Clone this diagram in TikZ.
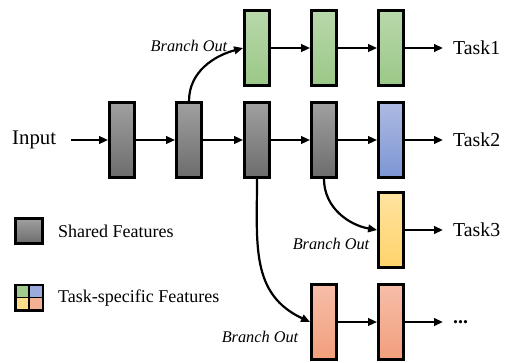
\documentclass[tikz,border=0pt]{standalone}
\usepackage{fontspec}
\setmainfont{Liberation Serif}
\usetikzlibrary{arrows.meta}
\definecolor{grayT}{HTML}{A0A0A0}
\definecolor{grayB}{HTML}{6C6C6C}
\definecolor{greenT}{HTML}{B8D8AA}
\definecolor{greenB}{HTML}{9BC887}
\definecolor{blueT}{HTML}{ADBAE2}
\definecolor{blueB}{HTML}{7C95D3}
\definecolor{yelT}{HTML}{FFE3A0}
\definecolor{yelB}{HTML}{FFD36A}
\definecolor{orT}{HTML}{F6BEA8}
\definecolor{orB}{HTML}{F29E7B}
\tikzset{
  feat/.style={draw=black, line width=2.8pt, minimum width=25pt, minimum height=75pt, inner sep=0pt},
  shared/.style={feat, top color=grayT, bottom color=grayB},
  tgreen/.style={feat, top color=greenT, bottom color=greenB},
  tblue/.style={feat, top color=blueT, bottom color=blueB},
  tyel/.style={feat, top color=yelT, bottom color=yelB},
  tor/.style={feat, top color=orT, bottom color=orB},
  arr/.style={line width=2.2pt, -{Triangle[length=9pt,width=7.5pt]}},
  bigtxt/.style={font=\fontsize{19.8}{23}\selectfont, inner sep=0pt},
  legtxt/.style={font=\fontsize{18}{21}\selectfont, inner sep=0pt, anchor=west},
  brtxt/.style={font=\fontsize{16.3}{19}\selectfont\itshape, inner sep=0pt},
  tasktxt/.style={bigtxt, anchor=west, inner xsep=10pt, inner ysep=0pt}
}
\begin{document}
\begin{tikzpicture}[x=1pt,y=1pt]
\useasboundingbox (0,0) rectangle (510,-362);
% shared row
\node[shared] (g1) at (122,-140) {};
\node[shared] (g2) at (189,-140) {};
\node[shared] (g3) at (257,-140) {};
\node[shared] (g4) at (324,-140) {};
\node[tblue]  (b1) at (391,-140) {};
% task1 row
\node[tgreen] (gr1) at (257,-48) {};
\node[tgreen] (gr2) at (324,-48) {};
\node[tgreen] (gr3) at (391,-48) {};
% task3
\node[tyel] (y1) at (391,-230) {};
% task4
\node[tor] (o1) at (324,-322) {};
\node[tor] (o2) at (391,-322) {};
% labels
\node[bigtxt, anchor=west, font=\fontsize{20.8}{24}\selectfont] (in) at (12,-140) {Input};
\node[tasktxt] (t1) at (443,-48) {Task1};
\node[tasktxt] (t2) at (443,-140) {Task2};
\node[tasktxt] (t3) at (443,-230) {Task3};
\node[tasktxt] (t4) at (443,-322) {\textbf{...}};
% arrows
\draw[arr, shorten <=15pt] (in) -- (g1);
\draw[arr] (g1) -- (g2);
\draw[arr] (g2) -- (g3);
\draw[arr] (g3) -- (g4);
\draw[arr] (g4) -- (b1);
\draw[arr] (b1) -- (t2);
\draw[arr] (gr1) -- (gr2);
\draw[arr] (gr2) -- (gr3);
\draw[arr] (gr3) -- (t1);
\draw[arr] (y1) -- (t3);
\draw[arr] (o1) -- (o2);
\draw[arr] (o2) -- (t4);
% branches
\draw[arr] (g2.north) to[out=90,in=195] (gr1.west);
\draw[arr] (g4.south) to[out=-90,in=170] (y1.west);
\draw[arr] (g3.south) to[out=-90,in=155,looseness=1.1] (o1.west);
\node[brtxt] (bo1) at (189,-46) {Branch Out};
\node[brtxt] (bo2) at (331,-244) {Branch Out};
\node[brtxt] (bo3) at (260,-337) {Branch Out};
% legend
\node[shared, minimum width=27pt, minimum height=25pt] (lg) at (29,-231) {};
\node[legtxt] (lgt) at (58,-231) {Shared Features};
\fill[black] (14,-283.5) rectangle (44,-311.5);
\fill[greenB!80!greenT] (16.5,-286) rectangle (28.3,-296.7);
\fill[blueT!60!blueB] (30,-286) rectangle (41.5,-296.7);
\fill[yelT!60!yelB] (16.5,-298.3) rectangle (28.3,-309);
\fill[orT!60!orB] (30,-298.3) rectangle (41.5,-309);
\node[legtxt] (lt) at (58,-298) {Task-specific Features};
\end{tikzpicture}
\end{document}
